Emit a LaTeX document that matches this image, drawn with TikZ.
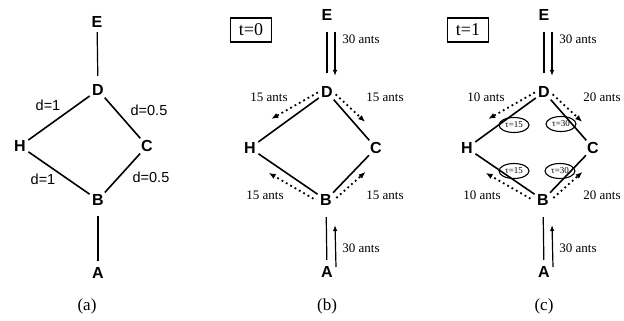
\documentclass[tikz,border=0pt]{standalone}
\usepackage{fontspec}
\setmainfont{Liberation Serif}
\setsansfont{Liberation Sans}
\usetikzlibrary{arrows.meta,calc,shapes.geometric}
\newcommand{\antpanel}[8]{% #1 prefix, #2 xshift, #3 t label, #4 ul, #5 ur, #6 ll, #7 lr, #8 sub label
\begin{scope}[xshift=#2]
\node[vtx] (#1E) at (327,15) {E};
\node[vtx] (#1D) at (327,92) {D};
\node[vtx] (#1H) at (250,148) {H};
\node[vtx] (#1C) at (376,148) {C};
\node[vtx] (#1B) at (326,200) {B};
\node[vtx] (#1A) at (327,272) {A};
\node[tbox] (#1T) at (251,30) {#3};
\draw[vedge,shorten <=7pt,shorten >=9pt] (#1E) -- (#1D);
\draw[vedge,shorten <=7pt,shorten >=2pt] (#1B) -- (#1A);
\draw[flow] ($(#1E)+(8,17)$) -- ($(#1D)+(8,-16)$);
\draw[flow] ($(#1A)+(9,-5)$) -- ($(#1B)+(9,25)$);
\draw[edge] (#1D) -- (#1H);
\draw[edge] (#1D) -- (#1C);
\draw[edge] (#1H) -- (#1B);
\draw[edge] (#1C) -- (#1B);
\draw[dotflow] ($(#1D)!0.08!(#1H)!5pt!-90:(#1H)$) -- ($(#1D)!0.64!(#1H)!11pt!-90:(#1H)$);
\draw[dotflow] ($(#1D)!0.1!(#1C)!5pt!90:(#1C)$) -- ($(#1D)!0.64!(#1C)!9pt!90:(#1C)$);
\draw[dotflow] ($(#1B)!0.12!(#1H)!6pt!90:(#1H)$) -- ($(#1B)!0.68!(#1H)!10pt!90:(#1H)$);
\draw[dotflow] ($(#1B)!0.12!(#1C)!6pt!-90:(#1C)$) -- ($(#1B)!0.66!(#1C)!9pt!-90:(#1C)$);
\node[alab] (#1l1) at (269,97) {#4};
\node[alab] (#1l2) at (385,97) {#5};
\node[alab] (#1l3) at (265,195) {#6};
\node[alab] (#1l4) at (385,195) {#7};
\node[alab] (#1l5) at (361,39) {30 ants};
\node[alab] (#1l6) at (361,248) {30 ants};
\node[sublab] (#1S) at (327,306) {#8};
\end{scope}}
\begin{document}
\begin{tikzpicture}[x=1pt,y=-1pt,
  vtx/.style={circle,inner sep=0pt,minimum size=20pt,font=\sffamily\bfseries\fontsize{16}{17}\selectfont},
  edge/.style={line width=1.6pt},
  vedge/.style={line width=1.2pt},
  dlab/.style={font=\sffamily\fontsize{14.5}{15}\selectfont,inner sep=0pt},
  alab/.style={font=\fontsize{13}{14}\selectfont,inner sep=0pt},
  flow/.style={line width=1.2pt,-{Latex[length=6pt,width=4.5pt]}},
  dotflow/.style={line width=1.8pt,dash pattern=on 1.8pt off 3.2pt,-{Latex[length=7pt,width=5.5pt]}},
  tbox/.style={draw,line width=1.1pt,minimum width=41pt,minimum height=24pt,inner sep=0pt,font=\fontsize{18}{19}\selectfont},
  taulab/.style={draw,ellipse,line width=1.1pt,minimum width=30pt,minimum height=15pt,inner sep=0pt,font=\fontsize{9}{10}\selectfont},
  sublab/.style={font=\fontsize{17}{18}\selectfont,inner sep=0pt}
]
\useasboundingbox (0,0) rectangle (624,321);
% panel (a)
\node[vtx] (aE) at (97,22) {E};
\node[vtx] (aD) at (98,90) {D};
\node[vtx] (aH) at (20,146) {H};
\node[vtx] (aC) at (147,146) {C};
\node[vtx] (aB) at (98,200) {B};
\node[vtx] (aA) at (98,273) {A};
\draw[vedge,shorten >=4pt] (aE) -- (aD);
\draw[vedge,shorten <=6pt,shorten >=2pt] (aB) -- (aA);
\draw[edge] (aD) -- (aH);
\draw[edge] (aD) -- (aC);
\draw[edge] (aH) -- (aB);
\draw[edge] (aC) -- (aB);
\node[dlab] (ad1) at (48,105) {d=1};
\node[dlab] (ad2) at (149,110) {d=0.5};
\node[dlab] (ad3) at (43,179) {d=1};
\node[dlab] (ad4) at (151,177) {d=0.5};
\node[sublab] (aS) at (87,306) {(a)};
% panels (b), (c)
\antpanel{b}{0pt}{t=0}{15 ants}{15 ants}{15 ants}{15 ants}{(b)}
\antpanel{c}{217pt}{t=1}{10 ants}{20 ants}{10 ants}{20 ants}{(c)}
\node[taulab] (cT1) at (514,125) {τ=15};
\node[taulab] (cT2) at (561,124) {τ=30};
\node[taulab] (cT3) at (514,171) {τ=15};
\node[taulab] (cT4) at (560,171) {τ=30};
\end{tikzpicture}
\end{document}
